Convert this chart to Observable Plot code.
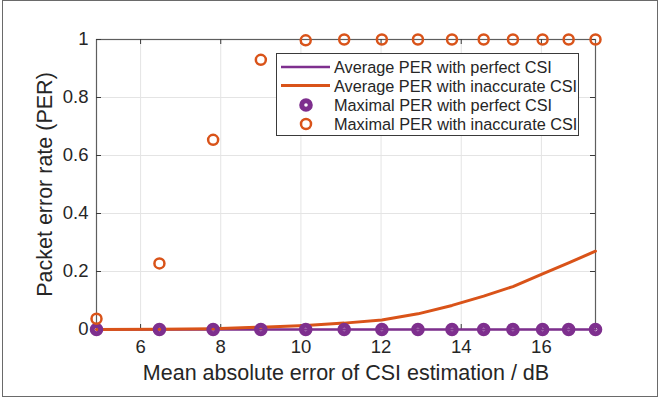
<!DOCTYPE html>
<html><head><meta charset="utf-8">
<script src="https://cdn.jsdelivr.net/npm/d3@7"></script>
<script src="https://cdn.jsdelivr.net/npm/@observablehq/plot@0.6"></script>
<style>
body{margin:0;background:#fff;}
#wrap{position:relative;width:659px;height:401px;overflow:hidden;font-family:"Liberation Sans",Arial,Helvetica,sans-serif;}
#frame{position:absolute;left:2px;top:0;width:656px;height:397px;border:1.5px solid #6a6a6a;box-sizing:border-box;pointer-events:none;}
#legend{position:absolute;left:276px;top:53px;}
#chart svg{display:block;}
</style></head><body><div id="wrap"><div id="chart"></div><div id="legend"></div><div id="frame"></div></div>
<script>
// Mean absolute error of CSI estimation / dB
const xVals = [4.9, 6.47, 7.81, 9.0, 10.12, 11.08, 12.02, 12.92, 13.77, 14.56, 15.29, 16.03, 16.68, 17.35];
const avgPerfect    = [0, 0, 0, 0, 0, 0, 0, 0, 0, 0, 0, 0, 0, 0];
const avgInaccurate = [0, 0.001, 0.003, 0.008, 0.014, 0.022, 0.033, 0.054, 0.083, 0.115, 0.148, 0.192, 0.23, 0.27];
const maxPerfect    = [0, 0, 0, 0, 0, 0, 0, 0, 0, 0, 0, 0, 0, 0];
const maxInaccurate = [0.037, 0.228, 0.654, 0.93, 0.997, 1, 1, 1, 1, 1, 1, 1, 1, 1];
const xTicks = [6, 8, 10, 12, 14, 16];
const yTicks = [0, 0.2, 0.4, 0.6, 0.8, 1];
const yTickLabels = ["0", "0.2", "0.4", "0.6", "0.8", "1"];
const seriesNames = ["Average PER with perfect CSI", "Average PER with inaccurate CSI", "Maximal PER with perfect CSI", "Maximal PER with inaccurate CSI"];
const xLabel = "Mean absolute error of CSI estimation / dB";
const yLabel = "Packet error rate (PER)";
const PURPLE = "#7E2F8E", ORANGE = "#D95319";

const rows = xVals.map((x, i) => ({x, avgP: avgPerfect[i], avgI: avgInaccurate[i], maxP: maxPerfect[i], maxI: maxInaccurate[i]}));

const W = 659, H = 401, mL = 96, mR = 64, mT = 39, mB = 72;
const fw = W - mL - mR, fh = H - mT - mB, tk = 5;

const chart = Plot.plot({
  width: W, height: H,
  marginLeft: mL, marginRight: mR, marginTop: mT, marginBottom: mB,
  style: {fontFamily: '"Liberation Sans", Arial, Helvetica, sans-serif', color: "#262626", background: "white"},
  x: {domain: [xVals[0], xVals[xVals.length - 1]]},
  y: {domain: [0, 1]},
  marks: [
    Plot.ruleX(xTicks, {stroke: "#e4e4e4", strokeWidth: 1}),
    Plot.ruleY(yTicks, {stroke: "#e4e4e4", strokeWidth: 1}),
    Plot.frame({stroke: "#5e5e5e", strokeWidth: 1.2}),
    Plot.ruleX(xTicks, {insetTop: fh - tk, stroke: "#3a3a3a"}),
    Plot.ruleX(xTicks, {insetBottom: fh - tk, stroke: "#3a3a3a"}),
    Plot.ruleY(yTicks, {insetRight: fw - tk, stroke: "#3a3a3a"}),
    Plot.ruleY(yTicks, {insetLeft: fw - tk, stroke: "#3a3a3a"}),
    Plot.line(rows, {x: "x", y: "avgP", stroke: PURPLE, strokeWidth: 2.5}),
    Plot.line(rows, {x: "x", y: "avgI", stroke: ORANGE, strokeWidth: 3}),
    Plot.dot(rows, {x: "x", y: "maxP", r: 4.3, stroke: PURPLE, strokeWidth: 5, fill: "none"}),
    Plot.dot(rows, {x: "x", y: "maxI", r: 5, stroke: ORANGE, strokeWidth: 2.5, fill: "none"}),
    Plot.axisX(xTicks, {tickSize: 0, tickPadding: 10, fontSize: 18.5, label: null, fill: "#262626"}),
    Plot.axisY(yTicks, {tickSize: 0, tickPadding: 8, fontSize: 18.5, label: null, fill: "#262626", tickFormat: (d) => yTickLabels[yTicks.indexOf(d)]}),
    Plot.text([xLabel], {frameAnchor: "bottom", dy: 50, fontSize: 21.5, fill: "#262626", textAnchor: "middle"}),
    Plot.text([yLabel], {frameAnchor: "left", dx: -51, rotate: -90, fontSize: 21.5, fill: "#262626", textAnchor: "middle"})
  ]
});
document.getElementById("chart").appendChild(chart);

// Legend
const lw = 303, lh = 83, rowY = [14, 32.5, 52, 71];
const ns = "http://www.w3.org/2000/svg";
const lg = document.createElementNS(ns, "svg");
lg.setAttribute("width", lw); lg.setAttribute("height", lh);
lg.style.fontFamily = '"Liberation Sans", Arial, Helvetica, sans-serif';
function el(tag, attrs) { const e = document.createElementNS(ns, tag); for (const k in attrs) e.setAttribute(k, attrs[k]); lg.appendChild(e); return e; }
el("rect", {x: 0.5, y: 0.5, width: lw - 1, height: lh - 1, fill: "white", stroke: "#3a3a3a", "stroke-width": 1});
const kinds = [
  {type: "line", color: PURPLE, w: 2.5},
  {type: "line", color: ORANGE, w: 3},
  {type: "dot", color: PURPLE, r: 4.3, w: 5},
  {type: "dot", color: ORANGE, r: 5, w: 2.5}
];
seriesNames.forEach((name, i) => {
  const k = kinds[i], y = rowY[i];
  if (k.type === "line") el("line", {x1: 5, x2: 54, y1: y, y2: y, stroke: k.color, "stroke-width": k.w});
  else el("circle", {cx: 30, cy: y, r: k.r, fill: "none", stroke: k.color, "stroke-width": k.w});
  const t = el("text", {x: 58, y: y, "dominant-baseline": "central", "font-size": 16.3, fill: "#262626"});
  t.textContent = name;
});
document.getElementById("legend").appendChild(lg);
</script>
</body></html>
